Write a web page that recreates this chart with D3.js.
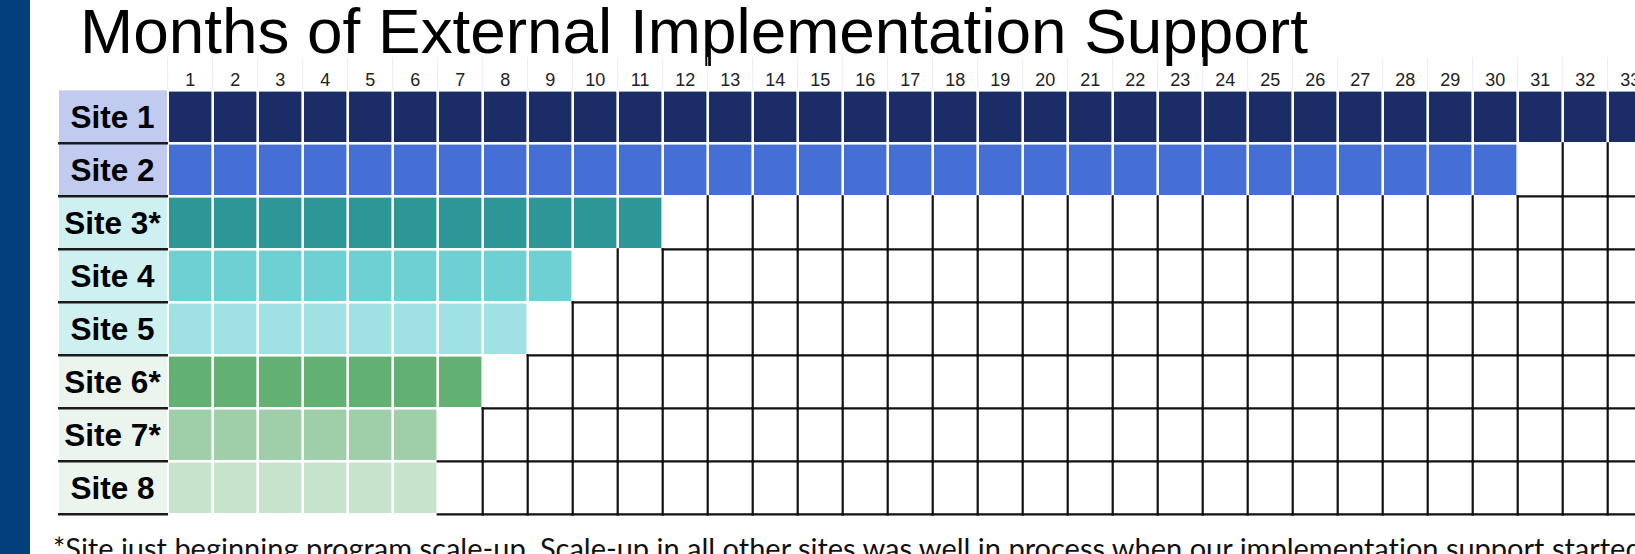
<!DOCTYPE html>
<html>
<head>
<meta charset="utf-8">
<script src="https://cdn.jsdelivr.net/npm/d3@7"></script>
<style>
  html, body { margin: 0; padding: 0; background: #fff; overflow: hidden; }
</style>
</head>
<body>
<script>
// data
const sites = ['Site 1', 'Site 2', 'Site 3*', 'Site 4', 'Site 5', 'Site 6*', 'Site 7*', 'Site 8'];
const monthsOfSupport = [33, 30, 11, 9, 8, 7, 6, 6];
const monthLabels = [1, 2, 3, 4, 5, 6, 7, 8, 9, 10, 11, 12, 13, 14, 15, 16, 17, 18, 19, 20,
  21, 22, 23, 24, 25, 26, 27, 28, 29, 30, 31, 32, 33];
const cellColors = ['#1b2d66', '#456fd4', '#2d9696', '#6dd1d3', '#a0e1e4', '#62b173', '#9fcfa8', '#c6e3cc'];
const labelColors = ['#c0cbef', '#c0cbef', '#cff0f0', '#cff0f0', '#cff0f0', '#ebf5ee', '#ebf5ee', '#ebf5ee'];
const titleText = 'Months of External Implementation Support';
const noteText = '*Site just beginning program scale-up. Scale-up in all other sites was well in process when our implementation support started';

const width = 1635;
const height = 554;

let svg = d3.select('body').append('svg')
  .attr('width', width)
  .attr('height', height)
  .style('display', 'block')

// dark side bar
svg.append('rect')
  .attr('x', 0).attr('y', 0)
  .attr('width', 30).attr('height', height)
  .attr('fill', '#033f7a')

let x = d3.scaleBand().domain(monthLabels).range([167.7, 167.7 + 45 * monthLabels.length]);
let y = d3.scaleBand().domain(sites).range([90.3, 90.3 + 53 * sites.length]);

// title, fitted to its width in the picture
let title = svg.append('text')
  .attr('x', 80).attr('y', 52.5)
  .style('font-family', '"Liberation Sans", Arial, sans-serif')
  .style('font-size', '60px')
  .attr('fill', '#000')
  .text(titleText)
let tw = title.node().getComputedTextLength();
title.style('font-size', (60 * 1228 / tw) + 'px')

// faint lines between month numbers
svg.selectAll('.head-line')
  .data(monthLabels)
  .enter().append('line')
  .attr('x1', d => x(d)).attr('x2', d => x(d))
  .attr('y1', 57).attr('y2', 90)
  .attr('stroke', '#ececec')
  .attr('stroke-width', 1)

svg.selectAll('.month')
  .data(monthLabels)
  .enter().append('text')
  .attr('x', d => x(d) + x.bandwidth() / 2)
  .attr('y', 86)
  .attr('text-anchor', 'middle')
  .style('font-family', '"Liberation Sans", Arial, sans-serif')
  .style('font-size', '18px')
  .attr('fill', '#222')
  .text(d => d)

// site labels
let rows = sites.map((s, i) => ({ site: s, months: monthsOfSupport[i], i: i }));

svg.selectAll('.label-bg')
  .data(rows)
  .enter().append('rect')
  .attr('x', 59).attr('y', d => y(d.site))
  .attr('width', 108).attr('height', y.bandwidth())
  .attr('fill', d => labelColors[d.i])

svg.selectAll('.label-rule')
  .data(rows)
  .enter().append('line')
  .attr('x1', 58).attr('x2', 168)
  .attr('y1', d => y(d.site) + y.bandwidth())
  .attr('y2', d => y(d.site) + y.bandwidth())
  .attr('stroke', '#1a1a1a')
  .attr('stroke-width', 2.5)

svg.selectAll('.label')
  .data(rows)
  .enter().append('text')
  .attr('x', 112.5)
  .attr('y', d => y(d.site) + y.bandwidth() / 2 + 11.5)
  .attr('text-anchor', 'middle')
  .style('font-family', '"Liberation Sans", Arial, sans-serif')
  .style('font-size', '31.5px')
  .style('font-weight', 'bold')
  .attr('fill', '#000')
  .text(d => d.site)

// every cell of the table
let cells = [];
rows.forEach(r => {
  monthLabels.forEach((m, j) => {
    cells.push({ site: r.site, i: r.i, month: m, j: j, filled: m <= r.months });
  });
});
const isEmpty = (i, j) => {
  if (i >= rows.length || j >= monthLabels.length) return true;
  return monthLabels[j] > rows[i].months;
};

// black borders only where two empty cells meet (and the bottom edge)
let edges = [];
cells.filter(c => !c.filled).forEach(c => {
  let x0 = x(c.month), x1 = x0 + x.bandwidth();
  let y0 = y(c.site), y1 = y0 + y.bandwidth();
  if (isEmpty(c.i, c.j + 1)) edges.push({ x1: x1, y1: y0, x2: x1, y2: y1 });
  if (isEmpty(c.i + 1, c.j)) edges.push({ x1: x0, y1: y1, x2: x1, y2: y1 });
});

svg.selectAll('.grid')
  .data(edges)
  .enter().append('line')
  .attr('x1', d => d.x1).attr('y1', d => d.y1)
  .attr('x2', d => d.x2).attr('y2', d => d.y2)
  .attr('stroke', '#111')
  .attr('stroke-width', 2.2)
  .attr('stroke-linecap', 'square')

svg.selectAll('.cell')
  .data(cells.filter(c => c.filled))
  .enter().append('rect')
  .attr('x', d => x(d.month) + 1.3)
  .attr('y', d => y(d.site) + 1.3)
  .attr('width', x.bandwidth() - 2.6)
  .attr('height', y.bandwidth() - 2.6)
  .attr('fill', d => cellColors[d.i])

// footnote, runs off the bottom and right edge like the picture
let note = svg.append('text')
  .attr('x', 53)
  .style('font-family', 'Lato, "Open Sans", sans-serif')
  .style('font-size', '24px')
  .style('font-variant-ligatures', 'none')
  .attr('fill', '#111')
  .text(noteText)
let nw = note.node().getComputedTextLength();
let noteSize = 24 * 1589 / nw;
note.style('font-size', noteSize + 'px')
  .attr('y', 538 + noteSize * 0.72)
</script>
</body>
</html>
